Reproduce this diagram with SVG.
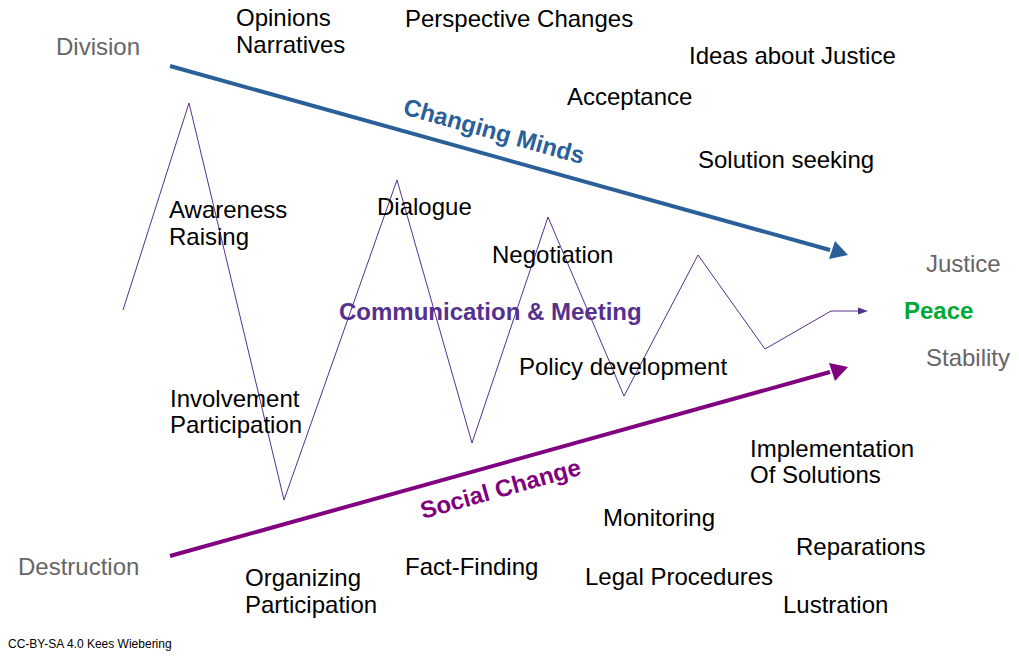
<svg xmlns="http://www.w3.org/2000/svg" width="1019" height="656" viewBox="0 0 1019 656">
<style>
text{font-family:"Liberation Sans",Arial,sans-serif;font-size:24px;fill:#000}
.g{fill:#666}
.b{font-weight:bold}
</style>
<rect width="1019" height="656" fill="#fff"/>
<g id="connectors">
<path d="M170,66 L830,250" stroke="#2a6099" stroke-width="4" fill="none"/>
<path d="M848,255 L829,259 L835,241 Z" fill="#2a6099"/>
<path d="M170,556 L830,372" stroke="#800080" stroke-width="4" fill="none"/>
<path d="M848,367 L835,381 L829,363 Z" fill="#800080"/>
<polyline points="123,310 189,103 284,500 397,180 472,443 548,217 624,396 698,255 765,349 831,311 860,311" fill="none" stroke="#55308d" stroke-width="1"/>
<path d="M868,311 L858,307.5 L858,314.5 Z" fill="#55308d"/>
</g>
<g id="division"><text class="g" x="56" y="55">Division</text></g>
<g id="destruction"><text class="g" x="18" y="575">Destruction</text></g>
<g id="justice"><text class="g" x="926" y="272">Justice</text></g>
<g id="peace"><text class="b" x="904" y="319" style="fill:#00a933">Peace</text></g>
<g id="stability"><text class="g" x="926" y="366">Stability</text></g>
<g id="opinions"><text x="236" y="26">Opinions</text><text x="236" y="53">Narratives</text></g>
<g id="perspective"><text x="405" y="27">Perspective Changes</text></g>
<g id="ideas"><text x="689" y="64">Ideas about Justice</text></g>
<g id="acceptance"><text x="567" y="105">Acceptance</text></g>
<g id="solution"><text x="698" y="168">Solution seeking</text></g>
<g id="awareness"><text x="169" y="218">Awareness</text><text x="169" y="245">Raising</text></g>
<g id="dialogue"><text x="377" y="215">Dialogue</text></g>
<g id="negotiation"><text x="492" y="263">Negotiation</text></g>
<g id="communication"><text class="b" x="339" y="320" style="fill:#55308d">Communication &amp; Meeting</text></g>
<g id="policy"><text x="519" y="375">Policy development</text></g>
<g id="involvement"><text x="170" y="407">Involvement</text><text x="170" y="433">Participation</text></g>
<g id="implementation"><text x="750" y="457">Implementation</text><text x="750" y="483">Of Solutions</text></g>
<g id="monitoring"><text x="603" y="526">Monitoring</text></g>
<g id="reparations"><text x="796" y="555">Reparations</text></g>
<g id="organizing"><text x="245" y="586">Organizing</text><text x="245" y="613">Participation</text></g>
<g id="factfinding"><text x="405" y="575">Fact-Finding</text></g>
<g id="legal"><text x="585" y="585">Legal Procedures</text></g>
<g id="lustration"><text x="783" y="613">Lustration</text></g>
<g id="changingminds"><text class="b" x="0" y="0" transform="translate(402,114) rotate(15.6)" style="fill:#2a6099">Changing Minds</text></g>
<g id="socialchange"><text class="b" x="0" y="0" transform="translate(423,519) rotate(-15.6)" style="fill:#800080">Social Change</text></g>
<g id="credit"><text x="8" y="648" style="font-size:12px">CC-BY-SA 4.0 Kees Wiebering</text></g>
</svg>
